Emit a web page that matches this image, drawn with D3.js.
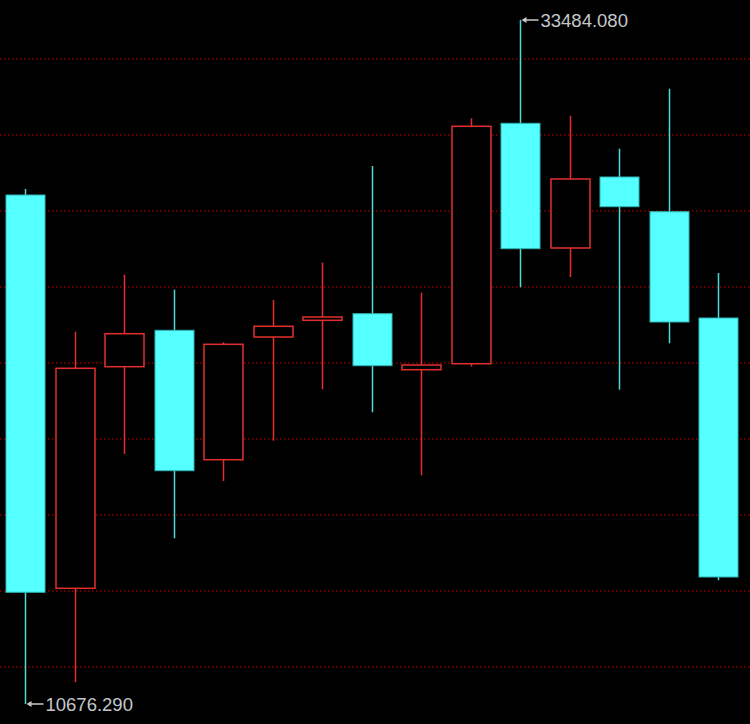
<!DOCTYPE html>
<html>
<head>
<meta charset="utf-8">
<script src="https://cdn.jsdelivr.net/npm/d3@7"></script>
<style>
  html, body { margin: 0; padding: 0; background: #000; }
  svg { display: block; }
</style>
</head>
<body>
<script>
const categories = ["1","2","3","4","5","6","7","8","9","10","11","12","13","14","15"];
const openValues  = [27648.8, 14534.3, 21923.5, 23137.2, 18822.4, 22913.8, 23470.7, 23690.8, 21823.5, 22023.5, 30039.6, 25881.5, 28249.0, 27091.9, 23547.4];
const highValues  = [27848.8, 23090.6, 24991.2, 24491.0, 22737.1, 24147.6, 25391.3, 28615.8, 24391.0, 30206.3, 33484.08, 30293.0, 29192.6, 31193.3, 25047.9];
const lowValues   = [10676.29, 11399.9, 19012.5, 16201.5, 18112.2, 19456.0, 21169.9, 20403.0, 18302.3, 21930.1, 24571.1, 24914.5, 21156.8, 22703.8, 14801.1];
const closeValues = [14400.9, 21870.1, 23023.9, 18455.6, 22670.4, 23270.6, 23580.7, 21956.8, 21980.2, 29939.6, 25858.2, 28182.3, 27258.6, 23414.0, 14911.1];
const gridValues  = [32174, 29643, 27112, 24581, 22050, 19519, 16988, 14457, 11926];

const W = 750, H = 724;
const svg = d3.select("body").append("svg").attr("width", W).attr("height", H);
svg.append("rect").attr("width", W).attr("height", H).attr("fill", "#000");

const yMin = d3.min(lowValues), yMax = d3.max(highValues);
const y = d3.scaleLinear().domain([yMin, yMax]).range([704, 20]);
const x = d3.scalePoint().domain(categories).range([0.25, 742.75]).padding(0.5);
const bodyW = 39;

// gridlines
svg.append("g").selectAll("line").data(gridValues).join("line")
  .attr("x1", 0).attr("x2", W)
  .attr("y1", d => Math.round(y(d))).attr("y2", d => Math.round(y(d)))
  .attr("stroke", "#8c0000").attr("stroke-width", 1.5)
  .attr("stroke-dasharray", "1.5,2.5");

const data = categories.map((c, i) => ({c, o: openValues[i], h: highValues[i], l: lowValues[i], cl: closeValues[i]}));
const UP = "#e3302e", DOWN_FILL = "#54ffff", DOWN_STROKE = "#2fb3b3", DOWN_WICK = "#4fd8d8";

const g = svg.append("g");
data.forEach(d => {
  const up = d.cl >= d.o;
  const cx = Math.round(x(d.c)) + 0.5;
  const top = y(Math.max(d.o, d.cl)), bot = y(Math.min(d.o, d.cl));
  g.append("line").attr("x1", cx).attr("x2", cx)
    .attr("y1", y(d.h)).attr("y2", y(d.l))
    .attr("stroke", up ? UP : DOWN_WICK).attr("stroke-width", 1.5);
  g.append("rect")
    .attr("x", cx - bodyW / 2).attr("y", top)
    .attr("width", bodyW).attr("height", Math.max(bot - top, 1.5))
    .attr("fill", up ? "#000" : DOWN_FILL)
    .attr("stroke", up ? UP : DOWN_STROKE)
    .attr("stroke-width", up ? 1.5 : 1);
});

// max / min marks
const maxIdx = highValues.indexOf(yMax), minIdx = lowValues.indexOf(yMin);
function mark(idx, val) {
  const cx = Math.round(x(categories[idx])) + 1.5;
  const yy = y(val);
  const m = svg.append("g");
  m.append("line").attr("x1", cx + 2).attr("x2", cx + 17).attr("y1", yy).attr("y2", yy)
    .attr("stroke", "#c8c8c8").attr("stroke-width", 1.5);
  m.append("path").attr("d", `M${cx},${yy} L${cx + 5},${yy - 3} L${cx + 5},${yy + 3} Z`).attr("fill", "#c8c8c8");
  m.append("text").attr("x", cx + 19).attr("y", yy).attr("dy", "0.36em")
    .attr("fill", "#c4c8cc").attr("font-family", "Liberation Sans, Arial, sans-serif")
    .attr("font-size", 18.5).text(val.toFixed(3));
}
mark(maxIdx, yMax);
mark(minIdx, yMin);
</script>
</body>
</html>
